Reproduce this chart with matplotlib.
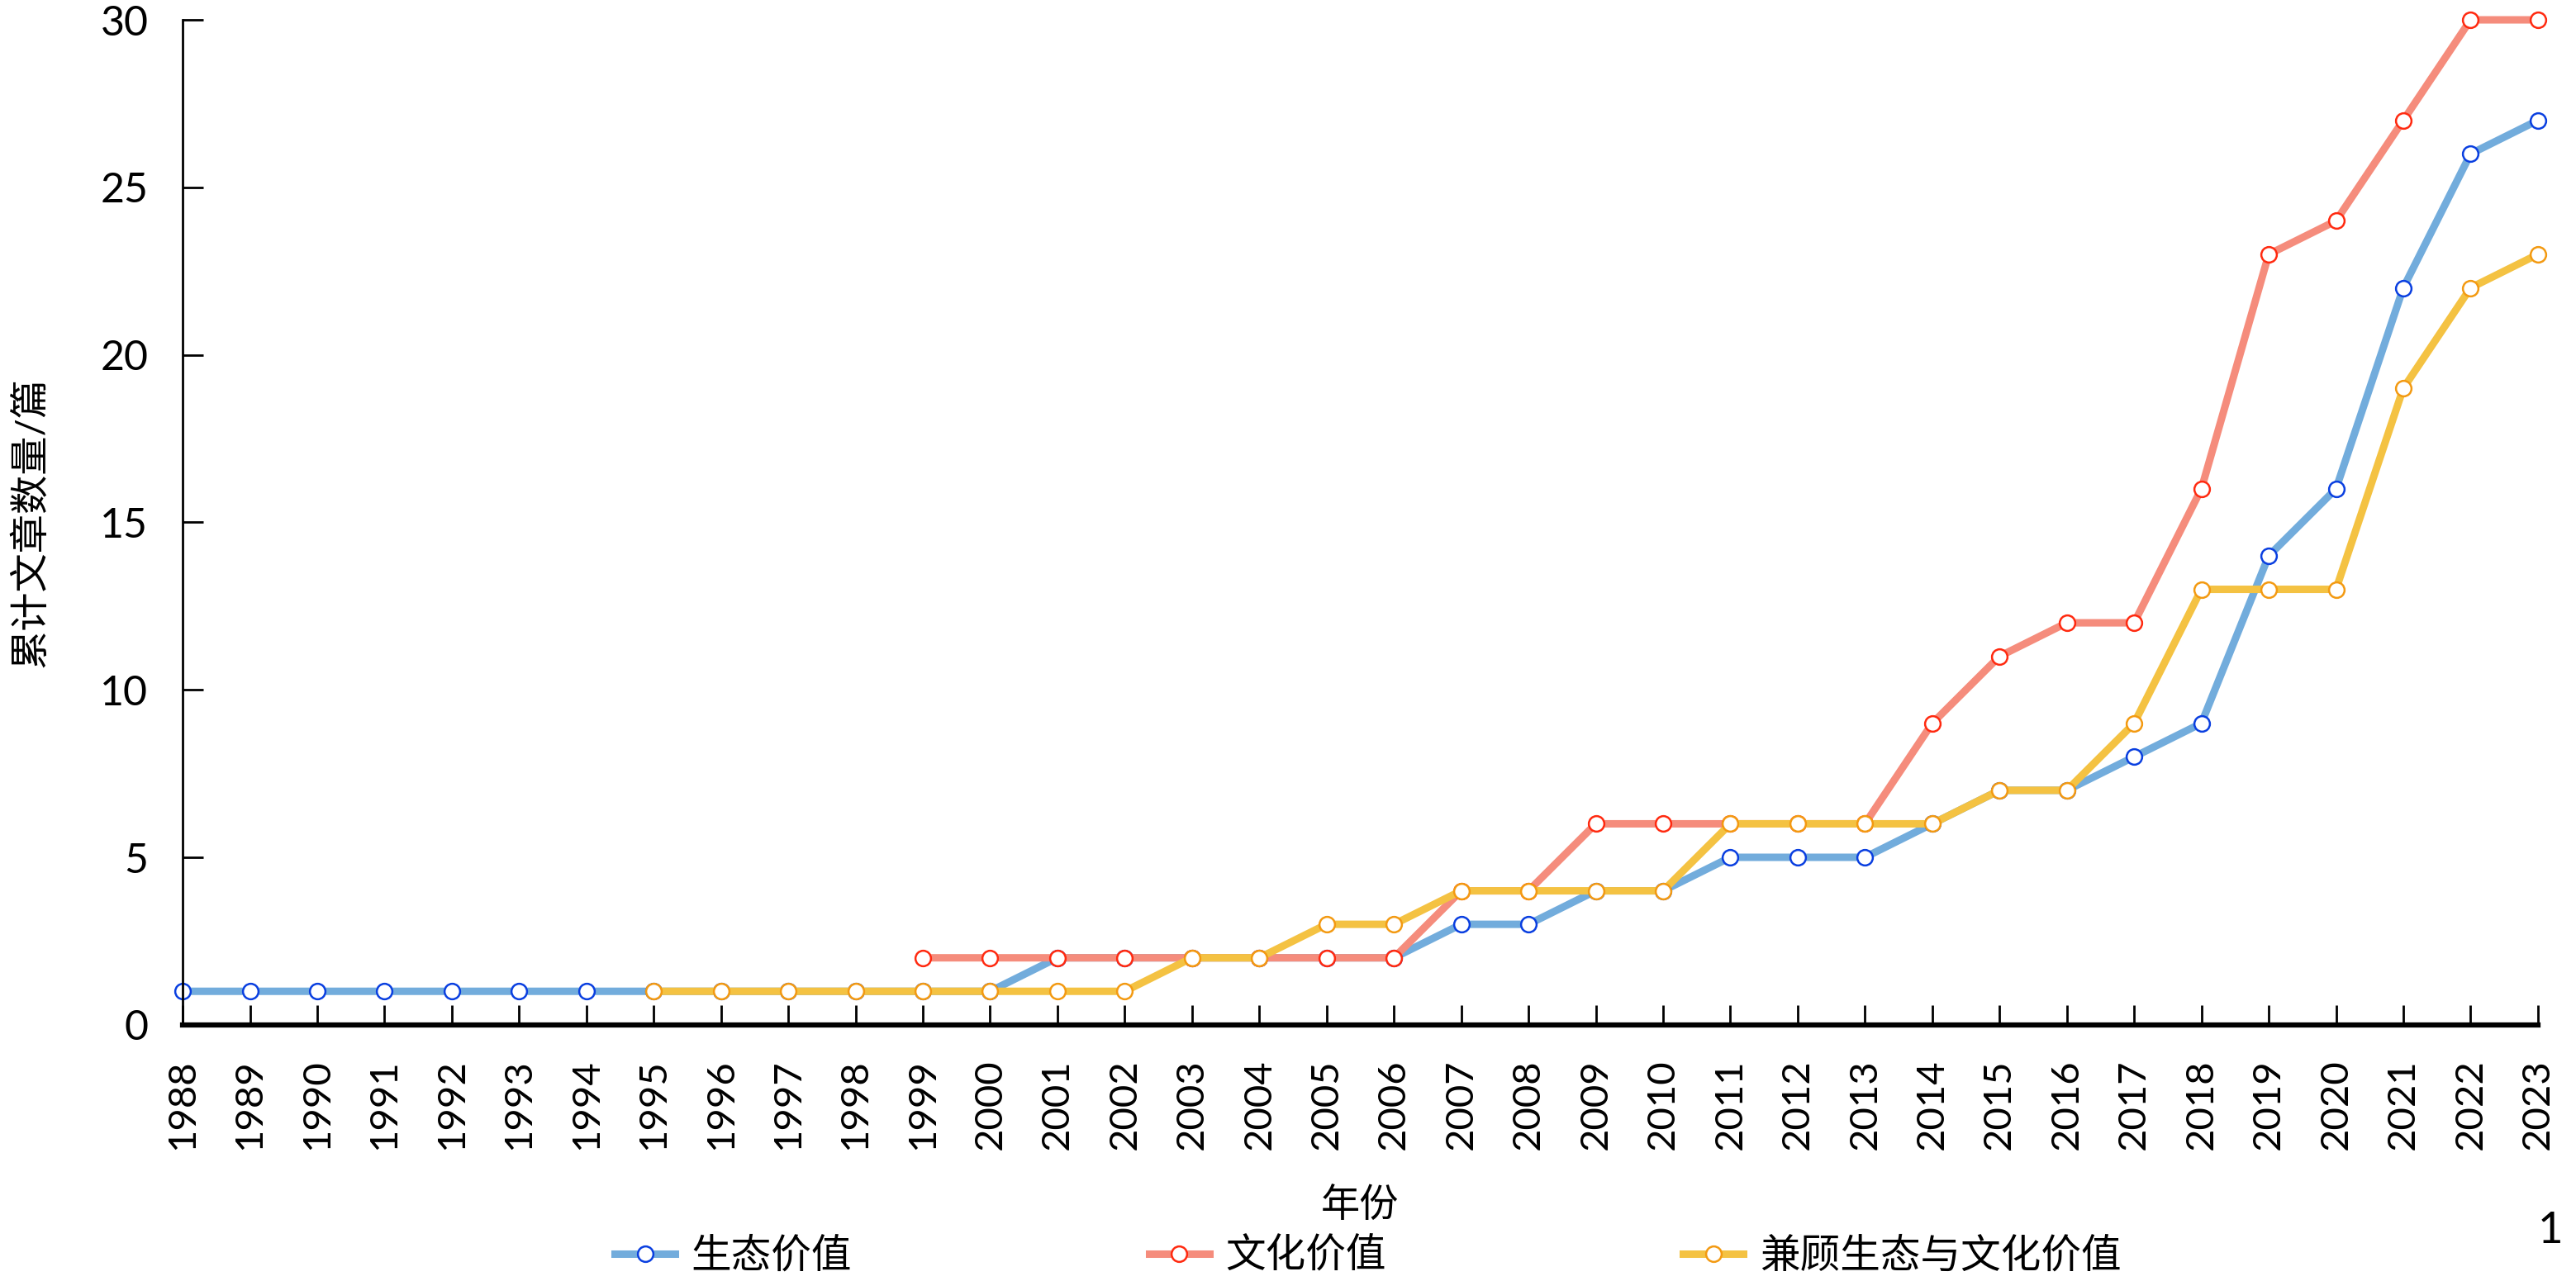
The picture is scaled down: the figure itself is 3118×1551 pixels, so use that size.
import matplotlib
matplotlib.use('Agg')
import matplotlib.pyplot as plt
import numpy as np

plt.rcParams['font.family'] = ['Lato', 'Noto Sans CJK SC', 'DejaVu Sans']

# data
years = list(range(1988, 2024))
eco_years = list(range(1988, 2024))
eco = [1, 1, 1, 1, 1, 1, 1, 1, 1, 1, 1, 1, 1, 2, 2, 2, 2, 2, 2, 3, 3, 4, 4,
       5, 5, 5, 6, 7, 7, 8, 9, 14, 16, 22, 26, 27]
cul_years = list(range(1999, 2024))
cul = [2, 2, 2, 2, 2, 2, 2, 2, 4, 4, 6, 6, 6, 6, 6, 9, 11, 12, 12, 16, 23,
       24, 27, 30, 30]
both_years = list(range(1995, 2024))
both = [1, 1, 1, 1, 1, 1, 1, 1, 2, 2, 3, 3, 4, 4, 4, 4, 6, 6, 6, 6, 7, 7, 9,
        13, 13, 13, 19, 22, 23]

series_names = ['生态价值', '文化价值', '兼顾生态与文化价值']
line_colors = ['#72acdc', '#f58c7c', '#f4c242']
edge_colors = ['#0a3fe0', '#ff2a10', '#f39a12']

fig = plt.figure(figsize=(31.18, 15.51), dpi=100)
ax = fig.add_axes([0.0709, 0.2, 0.9143, 0.7845])

handles = []
for xs, ys, name, lc, ec in zip([eco_years, cul_years, both_years], [eco, cul, both],
                                series_names, line_colors, edge_colors):
    h, = ax.plot(xs, ys, '-o', color=lc, lw=6.5, markersize=13.5,
                 markerfacecolor='white', markeredgecolor=ec, markeredgewidth=1.8,
                 clip_on=False, label=name)
    handles.append(h)

ax.set_xlim(1988, 2023)
ax.set_ylim(0, 30)
ax.set_xticks(years)
ax.set_xticklabels([str(y) for y in years], rotation=90, fontsize=34)
ax.set_yticks(range(0, 31, 5))
ax.tick_params(axis='y', labelsize=36, direction='in', length=18, width=2, pad=30)
ax.tick_params(axis='x', direction='in', length=17, width=2, pad=30)

for s in ['top', 'right']:
    ax.spines[s].set_visible(False)
ax.spines['left'].set_linewidth(2)
ax.spines['bottom'].set_linewidth(4.5)

ax.set_xlabel('年份', fontsize=34, labelpad=32)
ax.set_ylabel('累计文章数量/篇', fontsize=34, labelpad=45)

fig.legend(handles=handles, loc='center', bbox_to_anchor=(0.531, 0.02), ncol=3,
           frameon=False, fontsize=35, handlelength=1.5, handletextpad=0.4,
           columnspacing=7.4)

fig.text(0.99, 0.039, '1', fontsize=38, ha='center', va='center')

fig.savefig('out.png', dpi=100)
